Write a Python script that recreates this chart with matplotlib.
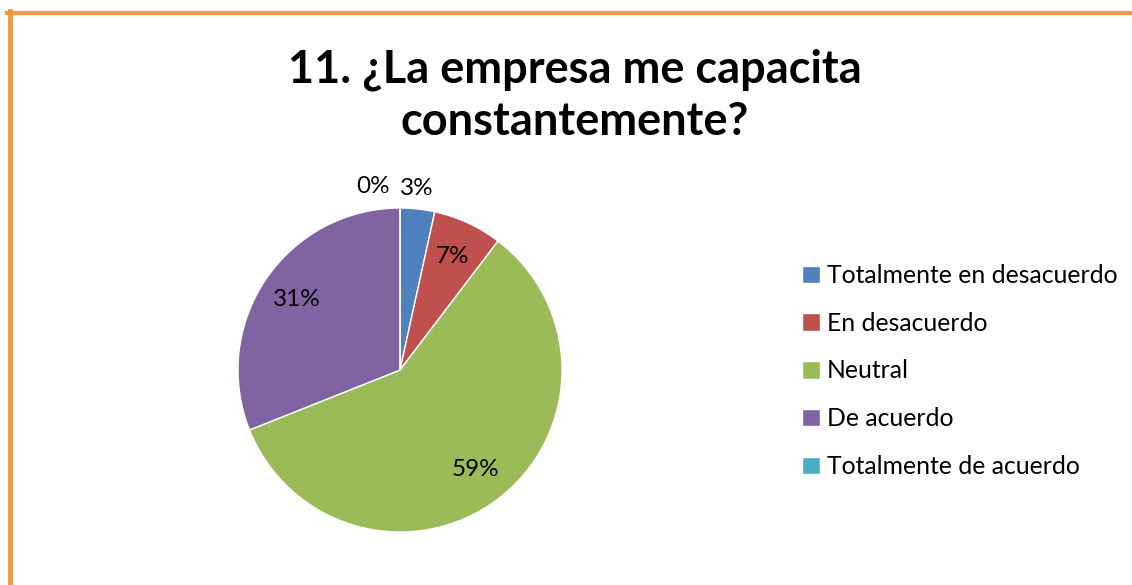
import matplotlib.pyplot as plt
from matplotlib.lines import Line2D

plt.rcParams['font.family'] = ['Lato', 'DejaVu Sans']

# Data
categories = ['Totalmente en desacuerdo', 'En desacuerdo', 'Neutral',
              'De acuerdo', 'Totalmente de acuerdo']
counts = [1, 2, 17, 9, 0]
colors = ['#4F81BD', '#C0504D', '#9BBB59', '#8064A2', '#4BACC6']
title = '11. ¿La empresa me capacita\nconstantemente?'

W, H = 1132, 585
fig = plt.figure(figsize=(W / 100, H / 100), dpi=100)

# pie axes placed in pixel terms: centre (400, 370), radius 162
cx, cy, r = 400, 370, 162
ax = fig.add_axes([(cx - r) / W, (H - cy - r) / H, 2 * r / W, 2 * r / H])

wedges, texts, autotexts = ax.pie(counts, colors=colors, startangle=90,
                                  counterclock=False, autopct='%.0f%%',
                                  pctdistance=0.77,
                                  wedgeprops=dict(linewidth=1, edgecolor='white'),
                                  textprops=dict(fontsize=17.5, color='black'))
ax.set_xlim(-1, 1)
ax.set_ylim(-1, 1)
ax.set_aspect('equal')

# small slices get their labels outside, like the original
total = sum(counts)
for i, t in enumerate(autotexts):
    share = counts[i] / total
    if share < 0.05:
        x, y = t.get_position()
        scale = 1.13 / 0.77
        if counts[i] == 0:
            t.set_position((x * scale - 0.06, y * scale))
            t.set_ha('right')
        else:
            t.set_position((x * scale - 0.02, y * scale))

fig.text(575 / W, 1 - 96 / H, title, ha='center', va='center',
         fontsize=32.5, fontweight='bold', linespacing=1.3)

fig.legend(wedges, categories, loc='center left',
           bbox_to_anchor=(780 / W, 1 - 371 / H), frameon=False,
           fontsize=17.8, handlelength=0.7, handleheight=0.7,
           handletextpad=0.3, labelspacing=1.0)

# orange frame (top and left edges visible)
fig.add_artist(Line2D([7 / W, 1], [1 - 13 / H, 1 - 13 / H], color='#F79646',
                      linewidth=3, transform=fig.transFigure))
fig.add_artist(Line2D([9.5 / W, 9.5 / W], [0, 1 - 11 / H], color='#F79646',
                      linewidth=3.5, transform=fig.transFigure))

fig.savefig('out.png', dpi=100)
